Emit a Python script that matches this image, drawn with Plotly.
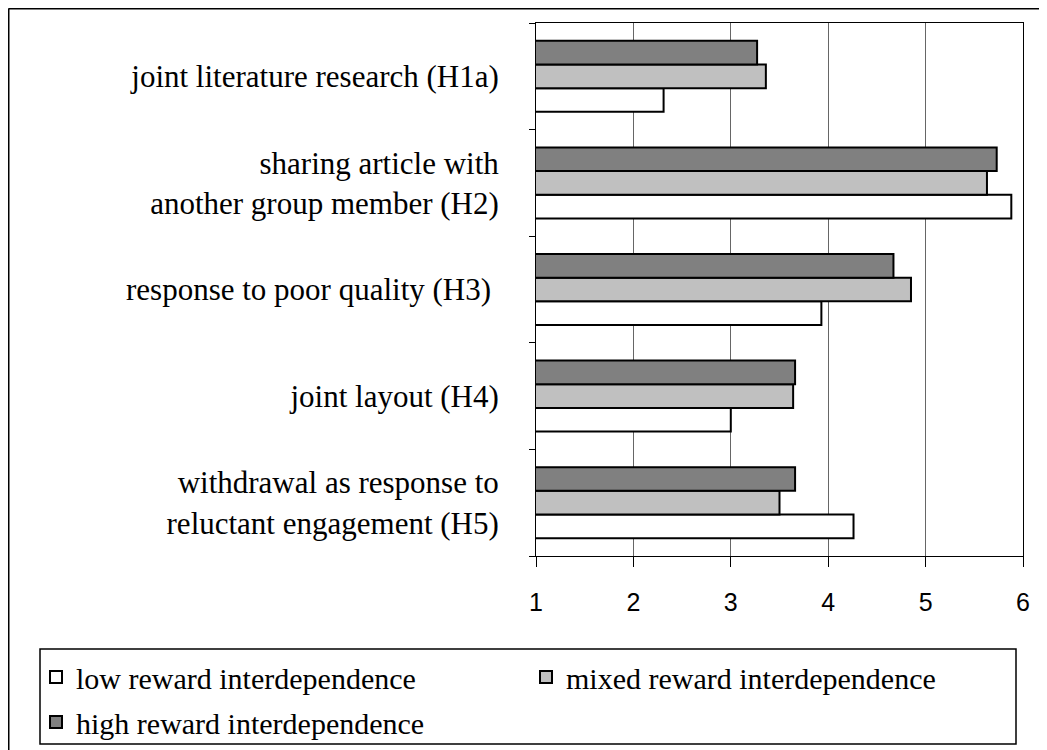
import plotly.graph_objects as go

categories = [
    "joint literature research (H1a)",
    "sharing article with<br>another group member (H2)",
    "response to poor quality (H3) ",
    "joint layout (H4)",
    "withdrawal as response to<br>reluctant engagement (H5)",
]
low_reward = [2.31, 5.88, 3.93, 3.00, 4.26]
mixed_reward = [3.36, 5.63, 4.85, 3.64, 3.50]
high_reward = [3.27, 5.73, 4.67, 3.66, 3.66]
x_ticks = [1, 2, 3, 4, 5, 6]

series = [
    ("low reward interdependence", low_reward, "#ffffff", "legend"),
    ("mixed reward interdependence", mixed_reward, "#c0c0c0", "legend2"),
    ("high reward interdependence", high_reward, "#808080", "legend3"),
]

# The page body adds an 8px offset, so the figure is 8px smaller than the window.
W, H = 1039, 742
L, R, T, B = 528, 24, 15, 194
pw, ph = W - L - R, H - T - B


def px_x(x):
    return (x - L) / pw


def px_y(y):
    return 1 - (y - T) / ph


fig = go.Figure()
for name, vals, col, lg in series:
    fig.add_trace(go.Bar(
        y=categories, x=vals, name=name, orientation="h",
        marker=dict(color=col, line=dict(color="#000000", width=2)),
        legend=lg,
    ))

serif = "Liberation Serif, Times New Roman, serif"
legend_common = dict(font=dict(family=serif, size=30, color="#000"),
                     bgcolor="rgba(0,0,0,0)", borderwidth=0,
                     xanchor="left", yanchor="middle")

fig.update_layout(
    width=W, height=H,
    margin=dict(l=L, r=R, t=T, b=B, autoexpand=False),
    paper_bgcolor="#ffffff", plot_bgcolor="#ffffff",
    barmode="group", bargap=0.334, bargroupgap=0,
    showlegend=True,
    legend=dict(x=px_x(28), y=px_y(669), **legend_common),
    legend2=dict(x=px_x(518), y=px_y(669), **legend_common),
    legend3=dict(x=px_x(28), y=px_y(714), **legend_common),
    xaxis=dict(
        range=[1, 6], tickvals=x_ticks, ticktext=[str(v) for v in x_ticks],
        showgrid=True, gridcolor="#666666", gridwidth=1,
        showline=True, linecolor="#000", linewidth=1, mirror=True,
        ticks="outside", ticklen=10, tickcolor="#000",
        tickfont=dict(family="Liberation Sans, Arial, sans-serif", size=25, color="#000"),
        ticklabelstandoff=14, zeroline=False, automargin=False,
    ),
    yaxis=dict(
        categoryorder="array", categoryarray=categories[::-1],
        showline=True, linecolor="#000", linewidth=1, mirror=True,
        ticks="outside", ticklen=6, tickcolor="#000", tickson="boundaries",
        tickfont=dict(family=serif, size=31, color="#000"),
        ticklabelstandoff=30, showgrid=False, automargin=False,
    ),
    shapes=[
        dict(type="rect", xref="paper", yref="paper",
             x0=px_x(32), x1=px_x(1008), y0=px_y(641), y1=px_y(736),
             line=dict(color="#000", width=1.5), fillcolor="rgba(0,0,0,0)", layer="below"),
        dict(type="line", xref="paper", yref="paper",
             x0=px_x(0.5), x1=px_x(W), y0=px_y(0.75), y1=px_y(0.75),
             line=dict(color="#000", width=1.5)),
        dict(type="line", xref="paper", yref="paper",
             x0=px_x(0.75), x1=px_x(0.75), y0=px_y(0.5), y1=px_y(H),
             line=dict(color="#000", width=1.5)),
    ],
)

fig.write_html("out.html")
